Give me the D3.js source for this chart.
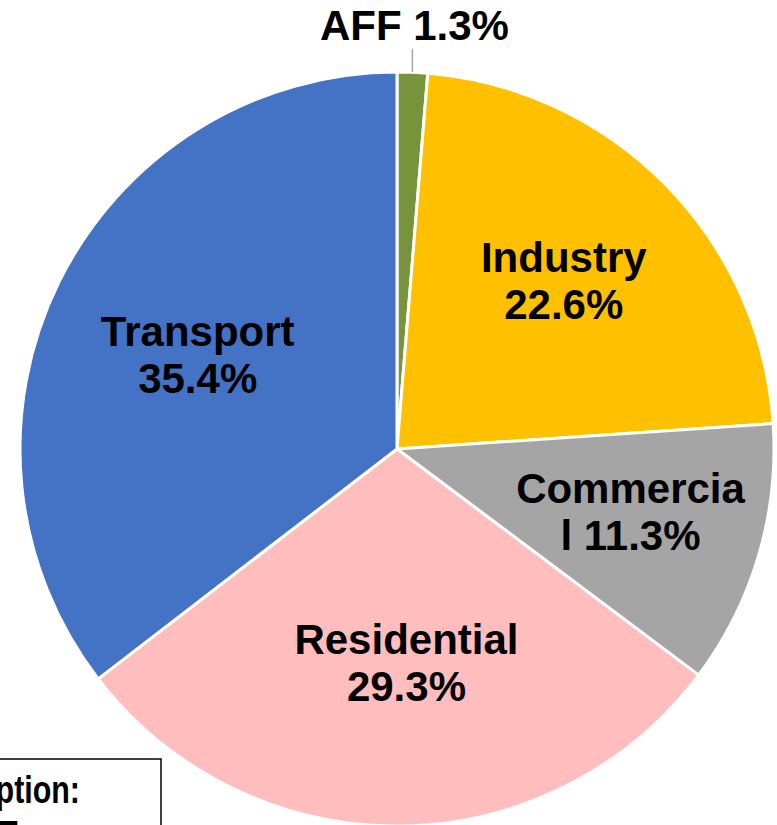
<!DOCTYPE html>
<html>
<head>
<meta charset="utf-8">
<script src="https://cdn.jsdelivr.net/npm/d3@7"></script>
<style>
  html, body { margin: 0; padding: 0; background: #fff; }
  svg { display: block; }
  text { font-family: "Liberation Sans", Arial, sans-serif; font-weight: bold; fill: #000; }
</style>
</head>
<body>
<div id="mainContainer"></div>
<script>
const categories = ['AFF', 'Industry', 'Commercial', 'Residential', 'Transport'];
const values = [1.3, 22.6, 11.3, 29.3, 35.4];
// label lines as shown in the chart (Commercial wraps mid-word)
const labelLines = [
  ['AFF 1.3%'],
  ['Industry', '22.6%'],
  ['Commercia', 'l 11.3%'],
  ['Residential', '29.3%'],
  ['Transport', '35.4%']
];
const colors = ['#77933C', '#FFC000', '#A5A5A5', '#FFBDBD', '#4472C4'];
// small nudges from the centroid, like Excel's best-fit placement
const labelNudge = [[0, 0], [3, -11], [13, -7], [8, -20], [7, 3]];

const width = 777;
const height = 825;
const cx = 397, cy = 449, radius = 377;

const svg = d3.select('#mainContainer')
  .append('svg')
  .attr('width', width)
  .attr('height', height);

const data = categories.map((c, i) => ({ name: c, value: values[i], lines: labelLines[i], color: colors[i], nudge: labelNudge[i] }));

const pie = d3.pie()
  .sort(null)
  .value(d => d.value);

const arc = d3.arc()
  .innerRadius(0)
  .outerRadius(radius);

const labelArc = d3.arc()
  .innerRadius(radius * 0.61)
  .outerRadius(radius * 0.61);

const arcs = pie(data);

const g = svg.append('g')
  .attr('transform', `translate(${cx},${cy})`);

g.selectAll('path')
  .data(arcs)
  .join('path')
    .attr('d', arc)
    .attr('fill', d => d.data.color)
    .attr('stroke', '#fff')
    .attr('stroke-width', 3)
    .attr('stroke-linejoin', 'round');

const fontSize = 42;
const lineH = 47;

// inside labels
arcs.filter(d => d.data.lines.length > 1).forEach(d => {
  const [x, y] = labelArc.centroid(d);
  const [dx, dy] = d.data.nudge;
  const t = g.append('text')
    .attr('text-anchor', 'middle')
    .attr('font-size', fontSize);
  d.data.lines.forEach((line, i) => {
    t.append('tspan')
      .attr('x', x + dx)
      .attr('y', y + dy - lineH / 2 + 19 + i * lineH)
      .text(line);
  });
});

// outside label for the small slice
const small = arcs[0];
const mid = (small.startAngle + small.endAngle) / 2;
const px = Math.sin(mid) * radius;
g.append('line')
  .attr('x1', px).attr('x2', px)
  .attr('y1', -radius).attr('y2', -radius - 23)
  .attr('stroke', '#A6A6A6')
  .attr('stroke-width', 1.5);
g.append('text')
  .attr('x', px + 2)
  .attr('y', -radius - 32)
  .attr('text-anchor', 'middle')
  .attr('font-size', fontSize)
  .text(small.data.lines[0]);

// text box at bottom left, cut by the picture's edge
const box = svg.append('g');
box.append('rect')
  .attr('x', -200).attr('y', 759)
  .attr('width', 361).attr('height', 120)
  .attr('fill', '#fff')
  .attr('stroke', '#000')
  .attr('stroke-width', 1.5);
box.append('text')
  .attr('transform', 'translate(80,803) scale(0.8,1)')
  .attr('text-anchor', 'end')
  .attr('font-size', 38)
  .text('Energy Consumption:');
box.append('text')
  .attr('transform', 'translate(-1,848) scale(0.8,1)')
  .attr('font-size', 38)
  .text('T');
</script>
</body>
</html>
